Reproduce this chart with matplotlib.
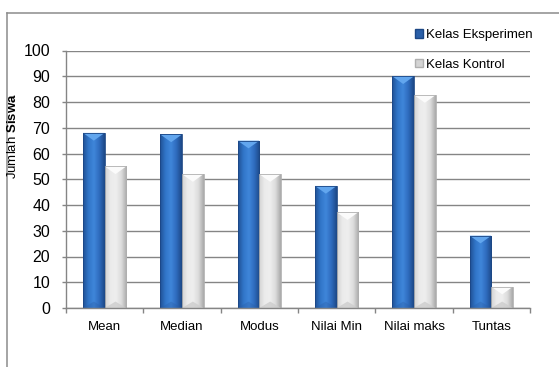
import numpy as np
import matplotlib
matplotlib.use("Agg")
import matplotlib.pyplot as plt
from matplotlib.colors import LinearSegmentedColormap
from matplotlib.patches import Patch, Polygon
from matplotlib.lines import Line2D

plt.rcParams['font.family'] = ['Liberation Sans', 'DejaVu Sans']
plt.rcParams['mathtext.fontset'] = 'custom'
plt.rcParams['mathtext.rm'] = 'Liberation Sans'
plt.rcParams['mathtext.bf'] = 'Liberation Sans:bold'

categories = ['Mean', 'Median', 'Modus', 'Nilai Min', 'Nilai maks', 'Tuntas']
eksperimen = [68, 67.4, 65, 47.4, 90, 28.1]
kontrol = [55, 52, 52, 37.2, 82.7, 8.3]
series_labels = ['Kelas Eksperimen', 'Kelas Kontrol']
yticks = [0, 10, 20, 30, 40, 50, 60, 70, 80, 90, 100]

W, H = 559, 367
fig = plt.figure(figsize=(W / 100, H / 100), dpi=100)
ax = fig.add_axes([66 / W, 1 - 308 / H, (530 - 66) / W, (308 - 50.5) / H])

x = np.arange(len(categories))
bw = 0.28
grid_c = '#858585'

blue_cmap = LinearSegmentedColormap.from_list('b', ['#1f4f93', '#3176c8', '#3f86da', '#2e6bbd', '#1c4785'])
grey_cmap = LinearSegmentedColormap.from_list('g', ['#d2d2d2', '#ebebeb', '#eeeeee', '#dcdcdc', '#a8a8a8'])
grad = np.linspace(0, 1, 256).reshape(1, -1)

b1 = ax.bar(x - bw / 2, eksperimen, bw, color='#2f6cbf', zorder=2, linewidth=0)
b2 = ax.bar(x + bw / 2, kontrol, bw, color='#dcdcdc', zorder=2, linewidth=0)

def shade(bars, cmap, top_c, bot_c, edge_c, bot_alpha):
    for bar in bars:
        x0, w, h = bar.get_x(), bar.get_width(), bar.get_height()
        im = ax.imshow(grad, cmap=cmap, extent=[x0, x0 + w, 0, h], aspect='auto',
                       zorder=2.1, interpolation='bicubic')
        im.set_clip_path(bar)
        d = min(3.0, h / 2)
        ax.add_patch(Polygon([[x0, h], [x0 + w, h], [x0 + w / 2, h - d]], closed=True,
                             facecolor=top_c, edgecolor='none', zorder=2.2))
        ax.add_patch(Polygon([[x0, 0], [x0 + w, 0], [x0 + w / 2, min(d, 2.5)]], closed=True,
                             facecolor=bot_c, edgecolor='none', alpha=bot_alpha, zorder=2.2))
        ax.add_patch(plt.Rectangle((x0, 0), w, h, facecolor='none', edgecolor=edge_c,
                                   linewidth=0.6, zorder=2.3))

shade(b1, blue_cmap, '#62a6ee', '#295ea6', '#1c4785', 0.35)
shade(b2, grey_cmap, '#fbfbfb', '#cdcdcd', '#b0b0b0', 0.8)

ax.set_xlim(-0.5, len(categories) - 0.5)
ax.set_ylim(0, 100)
ax.set_yticks(yticks)
ax.set_xticks(x)
ax.set_xticklabels(categories)
ax.set_xticks(np.arange(len(categories) + 1) - 0.5, minor=True)
ax.tick_params(axis='x', which='major', length=0, pad=9.5, labelsize=9.5)
ax.tick_params(axis='x', which='minor', length=3.5, width=1.0, color=grid_c, direction='out')
ax.tick_params(axis='y', which='major', length=3, width=1.0, color=grid_c, pad=8.5, labelsize=11.5)

ax.yaxis.grid(True, color=grid_c, linewidth=1.0, zorder=0)
ax.set_axisbelow(True)
for s in ['top', 'right']:
    ax.spines[s].set_visible(False)
for s in ['left', 'bottom']:
    ax.spines[s].set_color(grid_c)
    ax.spines[s].set_linewidth(1.0)

fig.text(12.5 / W, 1 - 135.5 / H, r'Jumlah $\mathbf{Siswa}$', rotation=90,
         ha='center', va='center', fontsize=9.5)

handles = [Patch(facecolor='#2a5fa8', edgecolor='#1c4785'),
           Patch(facecolor='#d4d4d4', edgecolor='#b0b0b0')]
fig.legend(handles, series_labels, loc='upper left', bbox_to_anchor=(415 / W, 1 - 29 / H),
           bbox_transform=fig.transFigure, frameon=False, fontsize=9.5,
           handlelength=0.6, handleheight=0.6, handletextpad=0.25,
           labelspacing=1.35, borderpad=0, borderaxespad=0)

fig.add_artist(Line2D([6.5 / W, 1], [1 - 12.5 / H, 1 - 12.5 / H], color='#8c8c8c',
                      linewidth=1.1, transform=fig.transFigure))
fig.add_artist(Line2D([6.5 / W, 6.5 / W], [0, 1 - 12.5 / H], color='#8c8c8c',
                      linewidth=1.1, transform=fig.transFigure))

fig.savefig('out.png', dpi=100)
